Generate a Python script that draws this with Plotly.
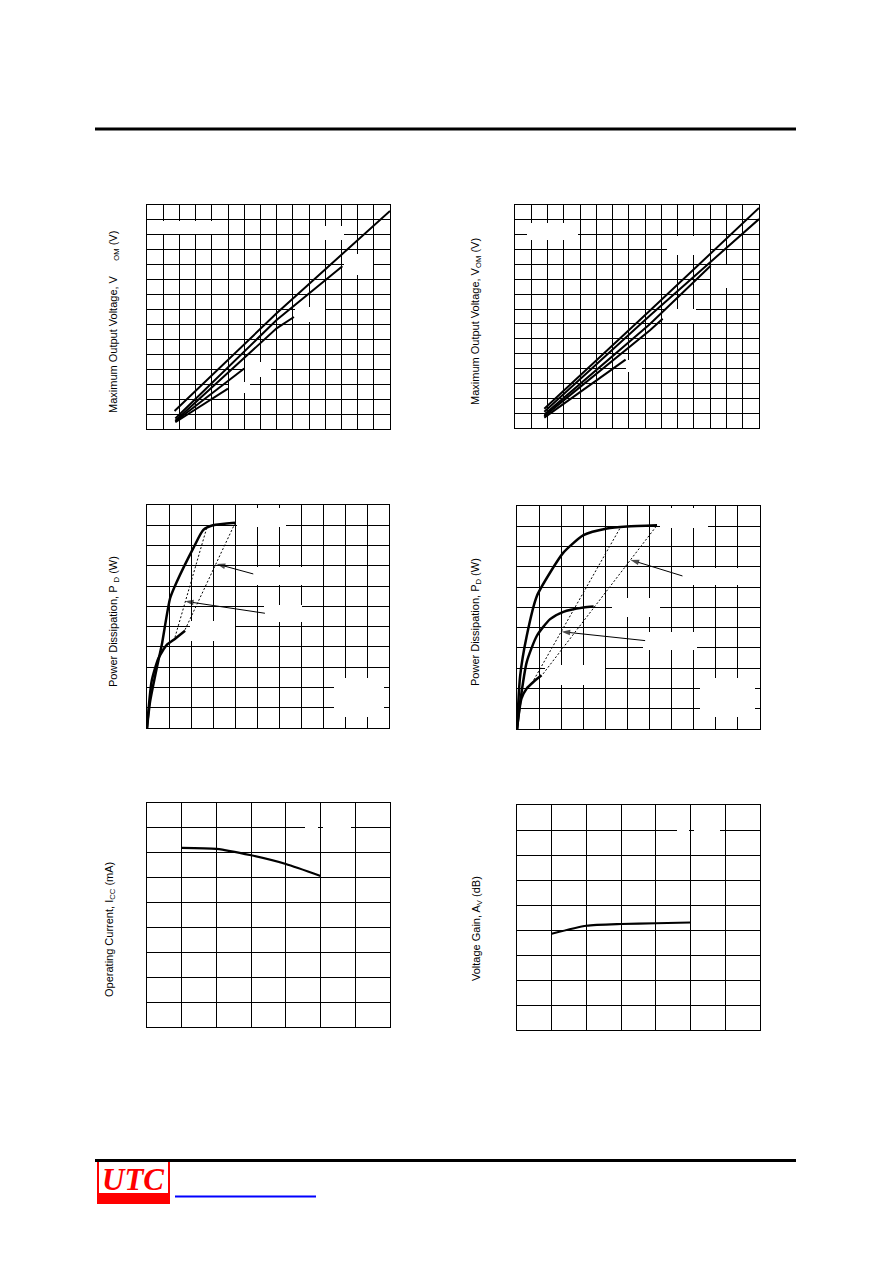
import plotly.graph_objects as go

W, H = 892, 1263

# ---------------- DATA ----------------
# Panel 1: Maximum output voltage (left)
p1_a_x = [1.7, 8.0, 15.0];  p1_a_y = [1.2, 7.75, 14.6]
p1_b_x = [1.75, 8.0, 12.06]; p1_b_y = [0.7, 7.3, 10.9]
p1_c_x = [1.75, 8.0, 9.07];  p1_c_y = [0.55, 6.74, 7.5]
p1_d_x = [1.75, 6.0];        p1_d_y = [0.5, 4.05]
p1_e_x = [1.75, 5.0];        p1_e_y = [0.45, 2.7]

# Panel 2: Maximum output voltage (right)
p2_a_x = [1.8, 8.3, 15.0];   p2_a_y = [1.3, 7.9, 14.8]
p2_b_x = [1.8, 8.3, 15.0];   p2_b_y = [1.1, 7.57, 14.05]
p2_c_x = [1.8, 8.3, 12.03];  p2_c_y = [0.9, 7.0, 10.92]
p2_d_x = [1.8, 8.3, 9.08];   p2_d_y = [0.8, 6.57, 7.35]
p2_e_x = [1.8, 6.8];         p2_e_y = [0.7, 4.6]

# Panel 3: Power dissipation (left)
p3_c1_x = [0, 0.14, 0.44, 0.67, 1.05, 1.35, 2.1, 2.56, 3.0, 4.0]
p3_c1_y = [0, 1.3, 2.94, 4.09, 6.4, 7.2, 8.86, 9.77, 10.0, 10.13]
p3_c2_x = [0, 0.21, 0.52, 0.89, 1.2, 1.73]
p3_c2_y = [0, 2.3, 3.44, 4.09, 4.34, 4.8]
p3_d1_x = [1.27, 2.71]; p3_d1_y = [4.47, 9.85]
p3_d2_x = [1.73, 4.0];  p3_d2_y = [4.85, 10.1]
# arrows: (tail x, tail y) -> (head x, head y)
p3_arrow1_x = [4.83, 3.17]; p3_arrow1_y = [7.6, 8.09]
p3_arrow2_x = [5.36, 1.73]; p3_arrow2_y = [5.66, 6.25]

# Panel 4: Power dissipation (right)
p4_c1_x = [0, 0.14, 0.44, 0.9, 1.5, 2.1, 3.01, 4.07, 4.98, 6.34]
p4_c1_y = [0, 2.6, 4.59, 6.56, 7.72, 8.7, 9.56, 9.89, 9.99, 10.05]
p4_c2_x = [0, 0.14, 0.44, 0.9, 1.5, 2.1, 3.01, 3.47]
p4_c2_y = [0, 1.3, 3.3, 4.6, 5.42, 5.78, 5.99, 6.04]
p4_c3_x = [0, 0.2, 0.44, 0.74, 1.11]
p4_c3_y = [0, 1.5, 2.0, 2.32, 2.65]
p4_d1_x = [0.67, 4.68]; p4_d1_y = [2.25, 9.94]
p4_d2_x = [1.18, 6.34]; p4_d2_y = [2.72, 10.05]
p4_arrow1_x = [7.49, 5.14]; p4_arrow1_y = [7.55, 8.34]
p4_arrow2_x = [5.8, 2.02];  p4_arrow2_y = [4.36, 4.8]

# Panel 5: Operating current
p5_x = [1, 2, 3, 4, 5]
p5_y = [7.2, 7.16, 6.9, 6.55, 6.07]

# Panel 6: Voltage gain
p6_x = [1, 2, 3, 4, 5]
p6_y = [3.85, 4.17, 4.24, 4.27, 4.3]

titles = [
    "Maximum Output Voltage, V\u00a0\u00a0\u00a0\u00a0\u00a0<sub>OM</sub> (V)",
    "Maximum Output Voltage, V<sub>OM</sub> (V)",
    "Power Dissipation, P\u00a0<sub>D</sub> (W)",
    "Power Dissipation, P<sub>D</sub> (W)",
    "Operating Current, I<sub>CC</sub> (mA)",
    "Voltage Gain, A<sub>V</sub> (dB)",
]

# ---------------- LAYOUT (pixel geometry) ----------------
panels = [
    dict(box=(147, 390, 205, 429), xr=(0, 15), yr=(0, 15), title_xy=(114, 322)),
    dict(box=(515, 759, 205, 428), xr=(0, 15), yr=(0, 15), title_xy=(476, 322)),
    dict(box=(147, 389, 505, 728), xr=(0, 11), yr=(0, 11), title_xy=(114, 622)),
    dict(box=(517, 760, 506, 729), xr=(0, 11), yr=(0, 11), title_xy=(476, 622)),
    dict(box=(147, 390, 803, 1027), xr=(0, 7), yr=(0, 9), title_xy=(110, 930)),
    dict(box=(517, 760, 805, 1030), xr=(0, 7), yr=(0, 9), title_xy=(477, 929)),
]

# white masks (pixel boxes: x0, x1, y0, y1) per panel
masks = [
    [(158, 212, 221, 234), (310, 344, 226, 240), (344, 373, 254, 275),
     (295, 325, 307, 322), (245, 271, 362, 377), (229, 250, 382, 393)],
    [(527, 578, 223, 240), (667, 710, 236, 255), (711, 742, 265, 288),
     (664, 696, 309, 323), (626, 642, 360, 372)],
    [(237, 286, 508, 527), (254, 302, 567, 585), (264, 302, 605, 622),
     (190, 235, 621, 641), (334, 384, 678, 717)],
    [(660, 708, 508, 528), (683, 746, 568, 585), (612, 660, 598, 617),
     (643, 697, 632, 650), (545, 605, 665, 685), (700, 755, 678, 717)],
    [(305, 318, 820, 833), (323, 351, 820, 833)],
    [(677, 689, 822, 836), (694, 720, 822, 836)],
]

fig = go.Figure()

def ax_names(i):
    s = "" if i == 0 else str(i + 1)
    return "x" + s, "y" + s

def px2data(i, px, py):
    l, r, t, b = panels[i]["box"]
    x0, x1 = panels[i]["xr"]
    y0, y1 = panels[i]["yr"]
    return (x0 + (px - l) / (r - l) * (x1 - x0),
            y0 + (b - py) / (b - t) * (y1 - y0))

layout = dict(width=W, height=H, margin=dict(l=0, r=0, t=0, b=0),
              paper_bgcolor="white", plot_bgcolor="white", showlegend=False,
              shapes=[], annotations=[])

for i, p in enumerate(panels):
    l, r, t, b = p["box"]
    xn, yn = ax_names(i)
    common = dict(showgrid=True, gridcolor="black", gridwidth=1, dtick=1, tick0=0,
                  showline=True, linecolor="black", linewidth=1, mirror=True,
                  zeroline=False, showticklabels=False, ticks="", fixedrange=True)
    layout["xaxis" + xn[1:]] = dict(domain=[l / W, r / W], range=list(p["xr"]),
                                   anchor=yn, **common)
    layout["yaxis" + yn[1:]] = dict(domain=[1 - b / H, 1 - t / H], range=list(p["yr"]),
                                   anchor=xn, **common)
    tx, ty = p["title_xy"]
    layout["annotations"].append(dict(
        x=tx / W, y=1 - ty / H, xref="paper", yref="paper", text=titles[i],
        textangle=-90, showarrow=False, xanchor="center", yanchor="middle",
        font=dict(family="Liberation Sans, Arial, sans-serif", size=11, color="black")))
    for (mx0, mx1, my0, my1) in masks[i]:
        dx0, dy0 = px2data(i, mx0, my1)
        dx1, dy1 = px2data(i, mx1, my0)
        layout["shapes"].append(dict(type="rect", xref=xn, yref=yn, x0=dx0, x1=dx1,
                                     y0=dy0, y1=dy1, fillcolor="white",
                                     line=dict(width=0), layer="between"))

def add_line(i, xs, ys, width=2, dash="solid"):
    xn, yn = ax_names(i)
    fig.add_trace(go.Scatter(x=xs, y=ys, mode="lines", xaxis=xn, yaxis=yn,
                             line=dict(color="black", width=width, dash=dash,
                                       shape="spline" if len(xs) > 3 else "linear",
                                       smoothing=0.6),
                             hoverinfo="skip", cliponaxis=True))

def add_arrow(i, xs, ys):
    xn, yn = ax_names(i)
    fig.add_trace(go.Scatter(x=xs, y=ys, mode="lines+markers", xaxis=xn, yaxis=yn,
                             line=dict(color="black", width=1),
                             marker=dict(symbol=["circle", "arrow"], size=[0, 9],
                                         angleref="previous", color="black",
                                         line=dict(width=0)),
                             hoverinfo="skip"))

for xs, ys in [(p1_a_x, p1_a_y), (p1_b_x, p1_b_y), (p1_c_x, p1_c_y),
               (p1_d_x, p1_d_y), (p1_e_x, p1_e_y)]:
    add_line(0, xs, ys, 2)
for xs, ys in [(p2_a_x, p2_a_y), (p2_b_x, p2_b_y), (p2_c_x, p2_c_y),
               (p2_d_x, p2_d_y), (p2_e_x, p2_e_y)]:
    add_line(1, xs, ys, 2)

add_line(2, p3_c1_x, p3_c1_y, 2.5)
add_line(2, p3_c2_x, p3_c2_y, 2.5)
add_line(2, p3_d1_x, p3_d1_y, 1, "2px,2px")
add_line(2, p3_d2_x, p3_d2_y, 1, "2px,2px")
add_arrow(2, p3_arrow1_x, p3_arrow1_y)
add_arrow(2, p3_arrow2_x, p3_arrow2_y)

add_line(3, p4_c1_x, p4_c1_y, 2.5)
add_line(3, p4_c2_x, p4_c2_y, 2.5)
add_line(3, p4_c3_x, p4_c3_y, 2.5)
add_line(3, p4_d1_x, p4_d1_y, 1, "2px,2px")
add_line(3, p4_d2_x, p4_d2_y, 1, "2px,2px")
add_arrow(3, p4_arrow1_x, p4_arrow1_y)
add_arrow(3, p4_arrow2_x, p4_arrow2_y)

add_line(4, p5_x, p5_y, 2.2)
add_line(5, p6_x, p6_y, 2.2)

# page decorations: header line, footer line, logo, link underline
def pp(x, y):
    return x / W, 1 - y / H

hx0, hy = pp(95, 129)
hx1, _ = pp(796, 129)
layout["shapes"].append(dict(type="line", xref="paper", yref="paper", x0=hx0, x1=hx1,
                             y0=hy, y1=hy, line=dict(color="black", width=3)))
# logo
lx0, ly0 = pp(97, 1204)
lx1, ly1 = pp(170, 1160)
layout["shapes"].append(dict(type="rect", xref="paper", yref="paper", x0=lx0, x1=lx1,
                             y0=ly0, y1=ly1, fillcolor="#ff0000", line=dict(width=0)))
wx0, wy0 = pp(99, 1193)
wx1, wy1 = pp(168, 1162)
layout["shapes"].append(dict(type="rect", xref="paper", yref="paper", x0=wx0, x1=wx1,
                             y0=wy0, y1=wy1, fillcolor="white", line=dict(width=0)))
fx0, fy = pp(95, 1160.5)
fx1, _ = pp(796, 1160.5)
layout["shapes"].append(dict(type="line", xref="paper", yref="paper", x0=fx0, x1=fx1,
                             y0=fy, y1=fy, line=dict(color="black", width=3)))
bx0, by = pp(175, 1196.5)
bx1, _ = pp(316, 1196.5)
layout["shapes"].append(dict(type="line", xref="paper", yref="paper", x0=bx0, x1=bx1,
                             y0=by, y1=by, line=dict(color="#0000ff", width=2)))
ux, uy = pp(133, 1179)
layout["annotations"].append(dict(
    x=ux, y=uy, xref="paper", yref="paper", text="<b><i>UTC</i></b>", showarrow=False,
    xanchor="center", yanchor="middle",
    font=dict(family="Liberation Serif, Times New Roman, serif", size=31, color="#ff0000")))

fig.update_layout(**layout)
fig.write_html("out.html", config={"displayModeBar": False},
               post_script="document.body.style.margin='0px';")
